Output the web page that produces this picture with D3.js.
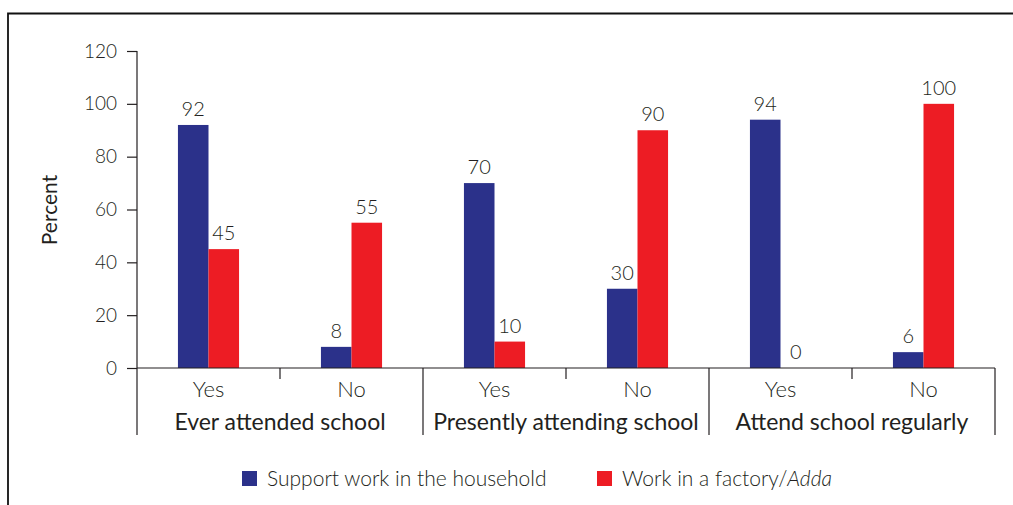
<!DOCTYPE html>
<html>
<head>
<meta charset="utf-8">
<title>School attendance by type of work</title>
<script src="https://d3js.org/d3.v7.min.js"></script>
<style>
    body { margin: 0; padding: 0; background: #fff; }
    text { font-family: Lato, "Open Sans", sans-serif; fill: #231f20; }
</style>
</head>
<body>
<div id="chart"></div>
<script>
    // data
    const groups = ["Ever attended school", "Presently attending school", "Attend school regularly"];
    const answers = ["Yes", "No"];
    const seriesNames = ["Support work in the household", "Work in a factory/"];
    const household = [92, 8, 70, 30, 94, 6];
    const factory = [45, 55, 10, 90, 0, 100];
    const yTicks = [0, 20, 40, 60, 80, 100, 120];

    const colors = ["#2b318a", "#ed1c24"];
    const width = 1013, height = 505;

    const svg = d3.select("#chart").append("svg")
        .attr("width", width)
        .attr("height", height);

    // outer frame (cut off on the right and bottom)
    svg.append("path")
        .attr("d", "M8,505 L8,13.5 L1013,13.5")
        .attr("fill", "none")
        .attr("stroke", "#111")
        .attr("stroke-width", 1.8);

    const y = d3.scaleLinear().domain([0, 120]).range([368, 51]);
    const xGroup = d3.scaleBand().domain(groups).range([137, 995]);
    const xAns = d3.scaleBand().domain(answers).range([0, xGroup.bandwidth()]);
    const xSer = d3.scaleBand().domain([0, 1]).range([0, xAns.bandwidth()])
        .paddingInner(0).paddingOuter(1.34);

    // y axis
    const yAxis = d3.axisLeft(y).tickValues(yTicks).tickSize(10).tickPadding(10);
    const ya = svg.append("g").attr("transform", "translate(137,0)").call(yAxis);
    ya.select(".domain").attr("stroke", "#231f20").attr("stroke-width", 1.2)
        .attr("d", "M0,51V368");
    ya.selectAll(".tick line").attr("stroke", "#231f20").attr("stroke-width", 1.2);
    ya.selectAll(".tick text").style("font-size", "19px").style("font-weight", 300)
        .attr("fill", "#231f20");

    svg.append("text")
        .attr("transform", "translate(57,210) rotate(-90)")
        .attr("text-anchor", "middle")
        .style("font-size", "21px")
        .text("Percent");

    // rows: one per group/answer
    const rows = [];
    groups.forEach((g, gi) => {
        answers.forEach((a, ai) => {
            const i = gi * 2 + ai;
            rows.push({ group: g, answer: a, values: [household[i], factory[i]] });
        });
    });

    const cell = svg.selectAll("g.cell").data(rows).enter().append("g")
        .attr("class", "cell")
        .attr("transform", d => "translate(" + (xGroup(d.group) + xAns(d.answer)) + ",0)");

    cell.selectAll("rect").data(d => d.values).enter().append("rect")
        .attr("x", (v, i) => xSer(i))
        .attr("width", xSer.bandwidth())
        .attr("y", v => y(v))
        .attr("height", v => y(0) - y(v))
        .attr("fill", (v, i) => colors[i]);

    cell.selectAll("text.val").data(d => d.values).enter().append("text")
        .attr("class", "val")
        .attr("x", (v, i) => xSer(i) + xSer.bandwidth() / 2)
        .attr("y", v => y(v) - 9)
        .attr("text-anchor", "middle")
        .style("font-size", "20px")
        .style("font-weight", 300)
        .text(v => v);

    cell.append("text")
        .attr("x", xAns.bandwidth() / 2)
        .attr("y", 397)
        .attr("text-anchor", "middle")
        .style("font-size", "22px")
        .style("font-weight", 300)
        .text(d => d.answer);

    // x axis line, answer ticks and group separators
    svg.append("line")
        .attr("x1", 137).attr("x2", 995).attr("y1", 368).attr("y2", 368)
        .attr("stroke", "#231f20").attr("stroke-width", 1.2);

    svg.selectAll("line.ansTick").data(groups).enter().append("line")
        .attr("class", "ansTick")
        .attr("x1", g => xGroup(g) + xAns.bandwidth())
        .attr("x2", g => xGroup(g) + xAns.bandwidth())
        .attr("y1", 368).attr("y2", 379)
        .attr("stroke", "#231f20").attr("stroke-width", 1.2);

    const seps = groups.map(g => xGroup(g)).concat([xGroup.range()[1]]);
    svg.selectAll("line.sep").data(seps).enter().append("line")
        .attr("class", "sep")
        .attr("x1", d => d).attr("x2", d => d)
        .attr("y1", 368).attr("y2", 435)
        .attr("stroke", "#231f20").attr("stroke-width", 1.2);

    svg.selectAll("text.grp").data(groups).enter().append("text")
        .attr("class", "grp")
        .attr("x", g => xGroup(g) + xGroup.bandwidth() / 2)
        .attr("y", 430)
        .attr("text-anchor", "middle")
        .style("font-size", "23px")
        .text(g => g);

    // legend
    const legX = [242, 597];
    const leg = svg.selectAll("g.leg").data(seriesNames).enter().append("g")
        .attr("class", "leg")
        .attr("transform", (d, i) => "translate(" + legX[i] + ",471)");
    leg.append("rect")
        .attr("width", 15).attr("height", 15)
        .attr("fill", (d, i) => colors[i]);
    const lt = leg.append("text")
        .attr("x", 25).attr("y", 15)
        .style("font-size", "21px")
        .style("font-weight", 300)
        .text(d => d);
    lt.filter((d, i) => i === 1).append("tspan")
        .style("font-style", "italic")
        .text("Adda");
</script>
</body>
</html>
